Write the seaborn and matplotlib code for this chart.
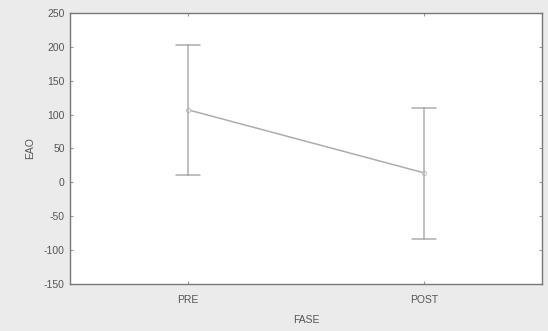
import matplotlib
matplotlib.use("Agg")
import matplotlib.pyplot as plt
import seaborn as sns
import numpy as np
import pandas as pd

fases = ["PRE", "POST"]
means = [107, 14]
lower = [11, -83]
upper = [203, 110]
yticks = [-150, -100, -50, 0, 50, 100, 150, 200, 250]

rows = []
for f, lo, m, up in zip(fases, lower, means, upper):
    for v in (lo, m, up):
        rows.append({"FASE": f, "EAO": v})
df = pd.DataFrame(rows)

sns.set_style("white")
plt.rcParams["font.family"] = ["Liberation Sans", "DejaVu Sans"]

fig = plt.figure(figsize=(5.48, 3.31), dpi=100, facecolor="#ebebeb")
ax = fig.add_axes([0.128, 0.142, 0.861, 0.819])
ax.set_facecolor("white")

sns.pointplot(
    data=df, x="FASE", y="EAO", order=fases,
    estimator=np.median,
    errorbar=lambda v: (np.min(v), np.max(v)),
    color="#adadad", capsize=0.1, err_kws={"linewidth": 1.1},
    linewidth=1.1, markers="o", markersize=3,
    markerfacecolor="white", markeredgecolor="#c8c8c8",
    ax=ax,
)

ax.set_xlim(-0.5, 1.5)
ax.set_ylim(-150, 250)
ax.set_yticks(yticks)
ax.set_yticklabels([str(t) for t in yticks])
for s in ax.spines.values():
    s.set_color("#777777")
    s.set_linewidth(1.0)
ax.tick_params(axis="both", which="both", direction="in", length=2,
               color="#999999", labelsize=7.5, labelcolor="#555555",
               top=True, right=True, left=True, bottom=True)
ax.tick_params(axis="y", pad=4)
ax.tick_params(axis="x", pad=8)
ax.set_xlabel("FASE", fontsize=7.5, color="#555555", labelpad=7)
ax.set_ylabel("EAO", fontsize=7.5, color="#555555", labelpad=6)

fig.savefig("out.png", dpi=100, facecolor=fig.get_facecolor())
